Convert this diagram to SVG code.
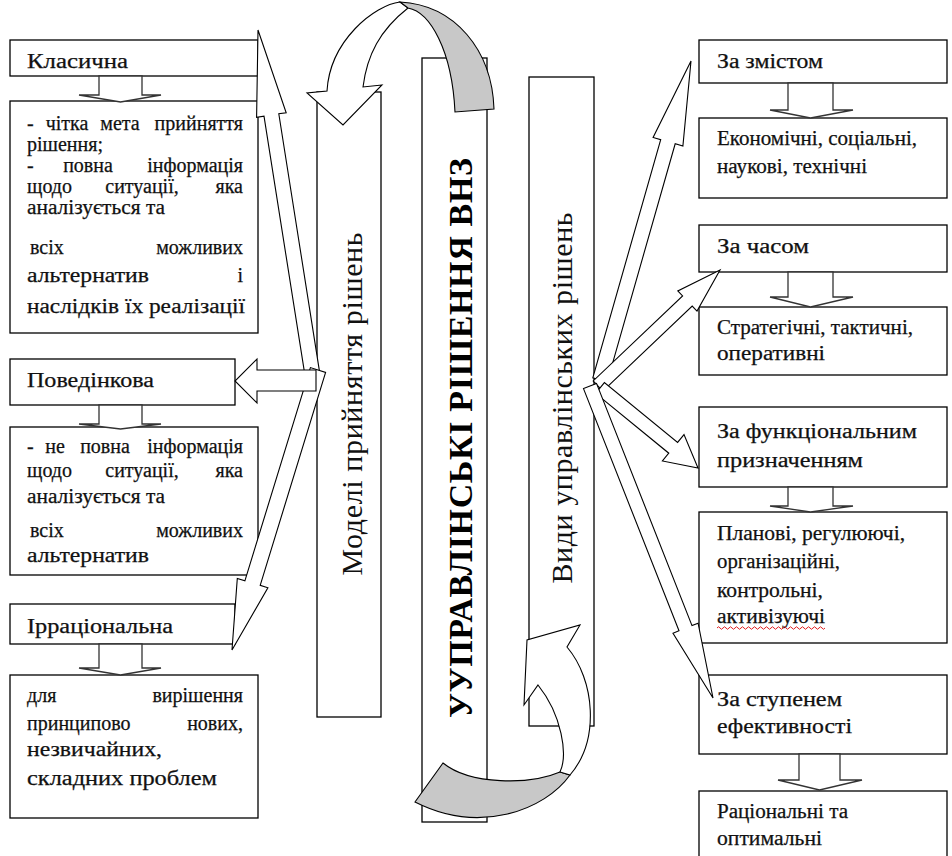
<svg xmlns="http://www.w3.org/2000/svg" width="952" height="856" viewBox="0 0 952 856">
<style>
.box{fill:#fff;stroke:#000;stroke-width:1.3}
.arr{fill:#fff;stroke:#000;stroke-width:1.1;stroke-linejoin:miter}
.sarr{fill:#fff;stroke:#333;stroke-width:1.3}
.grey{fill:#c8c8c8;stroke:#000;stroke-width:1.1}
.t{font-family:"Liberation Serif",serif;font-size:20px;fill:#111;stroke:#111;stroke-width:0.25}
.e{text-anchor:end}
.m{text-anchor:middle}
.v{font-family:"Liberation Serif",serif;font-size:30px;fill:#111;text-anchor:middle}
.title{font-family:"Liberation Serif",serif;font-size:34px;font-weight:bold;fill:#000;text-anchor:middle}
</style>
<rect width="952" height="856" fill="#fff"/>

<!-- left column -->
<g id="n-klasychna"><rect class="box" x="10" y="40" width="248" height="36"/><text class="t" x="27" y="68" textLength="101" lengthAdjust="spacingAndGlyphs">Класична</text></g>
<g id="n-klasychna-desc"><rect class="box" x="10" y="101" width="248" height="232"/>
<text class="t" x="27" y="130">-</text><text class="t m" x="67" y="130">чітка</text><text class="t m" x="120" y="130">мета</text><text class="t e" x="243" y="130">прийняття</text>
<text class="t" x="27" y="151" textLength="76" lengthAdjust="spacingAndGlyphs">рішення;</text>
<text class="t" x="27" y="172">-</text><text class="t m" x="88" y="172">повна</text><text class="t e" x="243" y="172">інформація</text>
<text class="t" x="27" y="193">щодо</text><text class="t m" x="142" y="193">ситуації,</text><text class="t e" x="243" y="193">яка</text>
<text class="t" x="27" y="214" textLength="138" lengthAdjust="spacingAndGlyphs">аналізується та</text>
<text class="t" x="30" y="254">всіх</text><text class="t e" x="243" y="254">можливих</text>
<text class="t" x="27" y="282" textLength="122" lengthAdjust="spacingAndGlyphs">альтернатив</text><text class="t e" x="243" y="282">і</text>
<text class="t" x="27" y="313" textLength="218" lengthAdjust="spacingAndGlyphs">наслідків їх реалізації</text>
</g>
<g id="n-povedinkova"><rect class="box" x="10" y="359" width="225" height="46"/><text class="t" x="27" y="387" textLength="127" lengthAdjust="spacingAndGlyphs">Поведінкова</text></g>
<g id="n-povedinkova-desc"><rect class="box" x="10" y="427" width="248" height="148"/>
<text class="t" x="27" y="453">-</text><text class="t m" x="55" y="453">не</text><text class="t m" x="105" y="453">повна</text><text class="t e" x="243" y="453">інформація</text>
<text class="t" x="27" y="477">щодо</text><text class="t m" x="142" y="477">ситуації,</text><text class="t e" x="243" y="477">яка</text>
<text class="t" x="27" y="503" textLength="138" lengthAdjust="spacingAndGlyphs">аналізується та</text>
<text class="t" x="30" y="537">всіх</text><text class="t e" x="243" y="537">можливих</text>
<text class="t" x="27" y="562" textLength="122" lengthAdjust="spacingAndGlyphs">альтернатив</text>
</g>
<g id="n-irratsionalna"><rect class="box" x="10" y="604" width="225" height="40"/><text class="t" x="27" y="633" textLength="146" lengthAdjust="spacingAndGlyphs">Ірраціональна</text></g>
<g id="n-irratsionalna-desc"><rect class="box" x="10" y="675" width="248" height="143"/>
<text class="t" x="27" y="702">для</text><text class="t e" x="243" y="702">вирішення</text>
<text class="t" x="27" y="730">принципово</text><text class="t e" x="243" y="730">нових,</text>
<text class="t" x="27" y="756" textLength="135" lengthAdjust="spacingAndGlyphs">незвичайних,</text>
<text class="t" x="27" y="785" textLength="190" lengthAdjust="spacingAndGlyphs">складних проблем</text>
</g>

<!-- central vertical boxes -->
<g id="n-modeli"><rect class="box" x="317" y="92" width="64" height="625"/><text class="v" transform="translate(362,404) rotate(-90)" textLength="343">Моделі прийняття рішень</text></g>
<g id="n-title"><rect class="box" x="422" y="58" width="65" height="764"/><text class="title" transform="translate(472,438) rotate(-90)" textLength="560">УУПРАВЛІНСЬКІ РІШЕННЯ ВНЗ</text></g>
<g id="n-vydy"><rect class="box" x="529" y="77" width="65" height="649"/><text class="v" transform="translate(572,398) rotate(-90)" textLength="371">Види управлінських рішень</text></g>

<!-- right column -->
<g id="n-zmist"><rect class="box" x="699" y="40" width="248" height="43"/><text class="t" x="717" y="68" textLength="106" lengthAdjust="spacingAndGlyphs">За змістом</text></g>
<g id="n-zmist-desc"><rect class="box" x="699" y="118" width="248" height="80"/><text class="t" x="717" y="145" textLength="200" lengthAdjust="spacingAndGlyphs">Економічні, соціальні,</text><text class="t" x="717" y="173" textLength="150" lengthAdjust="spacingAndGlyphs">наукові, технічні</text></g>
<g id="n-chas"><rect class="box" x="699" y="225" width="248" height="47"/><text class="t" x="717" y="253" textLength="92" lengthAdjust="spacingAndGlyphs">За часом</text></g>
<g id="n-chas-desc"><rect class="box" x="699" y="307" width="248" height="68"/><text class="t" x="717" y="334" textLength="196" lengthAdjust="spacingAndGlyphs">Стратегічні, тактичні,</text><text class="t" x="717" y="360" textLength="108" lengthAdjust="spacingAndGlyphs">оперативні</text></g>
<g id="n-funk"><rect class="box" x="699" y="407" width="248" height="80"/><text class="t" x="717" y="438" textLength="200" lengthAdjust="spacingAndGlyphs">За функціональним</text><text class="t" x="717" y="467" textLength="146" lengthAdjust="spacingAndGlyphs">призначенням</text></g>
<g id="n-funk-desc"><rect class="box" x="699" y="512" width="248" height="131"/>
<text class="t" x="717" y="540" textLength="188" lengthAdjust="spacingAndGlyphs">Планові, регулюючі,</text>
<text class="t" x="717" y="568" textLength="123" lengthAdjust="spacingAndGlyphs">організаційні,</text>
<text class="t" x="717" y="597" textLength="106" lengthAdjust="spacingAndGlyphs">контрольні,</text>
<text class="t" x="717" y="623" textLength="108" lengthAdjust="spacingAndGlyphs">активізуючі</text>
<path d="M717,628 q1.5,-2.5 3,0 t3,0 t3,0 t3,0 t3,0 t3,0 t3,0 t3,0 t3,0 t3,0 t3,0 t3,0 t3,0 t3,0 t3,0 t3,0 t3,0 t3,0 t3,0 t3,0 t3,0 t3,0 t3,0 t3,0 t3,0 t3,0 t3,0 t3,0 t3,0 t3,0 t3,0 t3,0 t3,0 t3,0 t3,0 t3,0" fill="none" stroke="#e02020" stroke-width="1"/>
</g>
<g id="n-efekt"><rect class="box" x="699" y="675" width="248" height="79"/><text class="t" x="717" y="706" textLength="125" lengthAdjust="spacingAndGlyphs">За ступенем</text><text class="t" x="717" y="733" textLength="135" lengthAdjust="spacingAndGlyphs">ефективності</text></g>
<g id="n-efekt-desc"><rect class="box" x="699" y="791" width="248" height="80"/><text class="t" x="717" y="818" textLength="131" lengthAdjust="spacingAndGlyphs">Раціональні та</text><text class="t" x="717" y="845" textLength="105" lengthAdjust="spacingAndGlyphs">оптимальні</text></g>

<!-- connectors -->
<g id="connectors">
<polygon class="sarr" points="99,76 142,76 142,95 161,95 120.5,102 79,95 99,95"/>
<polygon class="sarr" points="99,405 142,405 142,424 161,424 120.5,429 79,424 99,424"/>
<polygon class="sarr" points="99,644 142,644 142,668 161,668 120.5,675 79,668 99,668"/>
<polygon class="sarr" points="788,83 833,83 833,110 853,110 810.5,118 770,110 788,110"/>
<polygon class="sarr" points="788,272 833,272 833,297 853,297 810.5,307 770,297 788,297"/>
<polygon class="sarr" points="788,487 833,487 833,506 853,506 810.5,512 770,506 788,506"/>
<polygon class="sarr" points="799,754 840,754 840,780 862,780 819.5,790 778,780 799,780"/>
<polygon class="arr" points="319.4,370.8 278.8,113.8 286.2,112.7 258,30 256.6,117.3 264,116.2 304.6,373.2"/>
<polygon class="arr" points="310.4,367.6 244.9,580.8 237.3,578.4 232,650 267.9,587.8 260.2,585.4 325.6,372.4"/>
<polygon class="arr" points="316,370 257,370 257,359 235,381 257,403 257,391 316,391"/>
<polygon class="arr" points="607.2,382.1 675.2,143.8 682.9,146 691,61 653.1,137.5 660.7,139.7 592.8,377.9"/>
<polygon class="arr" points="602.8,391.1 692.2,306.1 697,311.1 720,270 677.8,290.9 682.6,295.9 593.2,380.9"/>
<polygon class="arr" points="595.6,393.4 668.8,453.2 662.4,461 698,468 684,434.6 677.6,442.4 604.4,382.6"/>
<polygon class="arr" points="583.5,388.6 679,630.8 673,633.2 713,698 698.1,623.2 692,625.6 596.5,383.4"/>
<path class="arr" d="M382,85 L363,87 C367,55 380,30 408,8 L400,2 C375,5 330,40 327,91 L307,93 L343,125 Z"/>
<path class="grey" d="M408,8 C430,12 452,50 455,112 L494,109 C492,50 455,5 400,2 Z"/>
<path class="grey" d="M443,763 C470,785 530,785 560,772 L570,775 C545,810 480,835 415,802 Z"/>
<path class="arr" d="M560,772 C568,755 562,715 538,685 L524,705 L527,640 L580,625 L567,647 C595,680 600,740 570,775 Z"/>
</g>
</svg>
